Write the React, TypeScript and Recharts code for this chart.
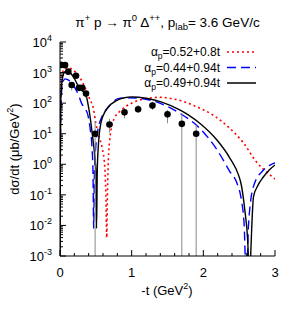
import React from 'react';
import { ComposedChart, Line, Scatter, ErrorBar, XAxis, YAxis } from 'recharts';

const FONT = '"Liberation Sans", Arial, Helvetica, sans-serif';

// measured cross sections (dots)
const expT = [0.015, 0.07, 0.116, 0.163, 0.223, 0.265, 0.31, 0.363, 0.49, 0.69, 0.9, 1.09, 1.29, 1.5, 1.7, 1.9];
const expY = [1780, 1750, 1070, 390, 790, 316, 316, 205, 10, 20, 50, 63, 83, 43, 21, 10];
const expErrLo = [150, 150, 120, 130, 120, 50, 50, 60, 9.999, 9, 18, 15, 23, 21, 20.999, 9.999];
const expErrHi = [150, 150, 150, 80, 120, 50, 50, 60, 16, 11, 19, 24, 29, 17, 26, 9];

// alpha = 0.52+0.8t (red dotted)
const redT = [0, 0.004, 0.01, 0.02, 0.05, 0.1, 0.15, 0.23, 0.32, 0.375, 0.41, 0.47, 0.5, 0.545, 0.59, 0.624, 0.64, 0.652, 0.662, 0.675, 0.69, 0.72, 0.76, 0.84, 1.0, 1.2, 1.4, 1.6, 1.86, 2.14, 2.37, 2.56, 2.74, 2.93, 3.0];
const redV = [0.0002, 1, 150, 500, 1200, 1450, 1350, 950, 450, 235, 145, 60, 22, 8, 3.3, 0.85, 0.1, 0.004, 0.1, 1.5, 5, 17, 32, 55, 100, 140, 155, 135, 85, 40, 15, 5, 1.2, 0.45, 0.33];

// alpha = 0.44+0.94t (blue dashed)
const blueT = [0, 0.004, 0.01, 0.02, 0.04, 0.07, 0.1, 0.16, 0.21, 0.26, 0.3, 0.35, 0.39, 0.42, 0.445, 0.46, 0.47, 0.48, 0.5, 0.53, 0.57, 0.63, 0.7, 0.81, 0.95, 1.1, 1.4, 1.67, 1.95, 2.19, 2.37, 2.47, 2.53, 2.57, 2.6, 2.63, 2.7, 2.84, 2.95, 3.0];
const blueV = [0.0002, 0.5, 40, 200, 480, 620, 600, 460, 310, 180, 100, 65, 40, 15, 4, 0.6, 0.008, 0.5, 4, 14, 30, 55, 87, 140, 150, 145, 98, 47, 15, 3, 0.58, 0.24, 0.07, 0.01, 0.0001, 0.01, 0.19, 0.65, 1.0, 1.1];

// alpha = 0.49+0.94t (black solid)
const blackT = [0, 0.004, 0.01, 0.02, 0.04, 0.07, 0.1, 0.15, 0.2, 0.25, 0.3, 0.36, 0.405, 0.45, 0.485, 0.5, 0.51, 0.52, 0.535, 0.57, 0.6, 0.66, 0.8, 0.9, 1.0, 1.1, 1.2, 1.4, 1.67, 1.8, 1.95, 2.19, 2.37, 2.49, 2.53, 2.58, 2.62, 2.645, 2.665, 2.7, 2.76, 2.84, 2.92, 3.0];
const blackV = [0.0002, 1, 90, 330, 750, 1080, 1130, 950, 640, 380, 270, 190, 60, 10, 1.8, 0.6, 0.008, 0.6, 4, 22, 38, 68, 126, 150, 160, 156, 145, 112, 60, 40, 22, 6.2, 1.6, 0.45, 0.21, 0.03, 0.003, 0.0001, 0.002, 0.087, 0.2, 0.39, 0.65, 0.95];

const xTicks = [0, 0.2, 0.4, 0.6, 0.8, 1, 1.2, 1.4, 1.6, 1.8, 2, 2.2, 2.4, 2.6, 2.8, 3];
const xMajor = [0, 1, 2, 3];
const yDecades = [0.001, 0.01, 0.1, 1, 10, 100, 1000, 10000];
const yExponents = ['-3', '-2', '-1', '0', '1', '2', '3', '4'];

const legendItems = [
  { label: '0.52+0.8t', color: '#ff0000', dash: '2 3' },
  { label: '0.44+0.94t', color: '#0000ff', dash: '9 5' },
  { label: '0.49+0.94t', color: '#000000', dash: undefined },
];

const yTicks: number[] = [];
yDecades.forEach((d, i) => {
  yTicks.push(d);
  if (i < yDecades.length - 1) for (let m = 2; m < 10; m++) yTicks.push(d * m);
});

const toRows = (ts: number[], vs: number[]) => ts.map((t, i) => ({ t, v: vs[i] }));
const redData = toRows(redT, redV);
const blueData = toRows(blueT, blueV);
const blackData = toRows(blackT, blackV);
const expData = expT.map((t, i) => ({ t, v: expY[i], err: [expErrLo[i], expErrHi[i]] }));

const majorX = (v: number) => xMajor.some(m => Math.abs(m - v) < 1e-6);
const decadeIdx = (v: number) => yDecades.findIndex(d => Math.abs(d - v) / d < 1e-6);

const makeTick = (side: 'bottom' | 'top' | 'left' | 'right') => (props: any) => {
  const { x, y, payload } = props;
  const v = payload.value;
  if (side === 'bottom' || side === 'top') {
    const big = majorX(v);
    const len = big ? 6 : 3;
    const dir = side === 'bottom' ? -1 : 1;
    return (
      <g>
        <line x1={x} x2={x} y1={y} y2={y + dir * len} stroke="#000" />
        {side === 'bottom' && big && (
          <text x={x} y={y + 21} textAnchor="middle" fontSize={13} fontFamily={FONT} fill="#000">{v}</text>
        )}
      </g>
    );
  }
  const idx = decadeIdx(v);
  const len = idx >= 0 ? 6 : 3;
  const dir = side === 'left' ? 1 : -1;
  return (
    <g>
      <line x1={x} x2={x + dir * len} y1={y} y2={y} stroke="#000" />
      {side === 'left' && idx >= 0 && (
        <text x={x - 8} y={y + 5} textAnchor="end" fontSize={13} fontFamily={FONT} fill="#000">
          10<tspan dy={-6} fontSize={9}>{yExponents[idx]}</tspan>
        </text>
      )}
    </g>
  );
};

const Dot = (p: any) => <circle cx={p.cx} cy={p.cy} r={3.3} fill="#000" />;

export default function App() {
  return (
    <div style={{ position: 'absolute', left: 0, top: 0, width: 300, height: 315, background: '#fff' }}>
      <ComposedChart width={300} height={315} margin={{ top: 42, right: 25, bottom: 29, left: 10 }}>
        <XAxis dataKey="t" type="number" domain={[0, 3]} ticks={xTicks} interval={0} allowDataOverflow
          height={30} tickSize={0} tickMargin={0} tickLine={false} axisLine={{ stroke: '#000' }} tick={makeTick('bottom')} />
        <XAxis xAxisId="top" orientation="top" dataKey="t" type="number" domain={[0, 3]} ticks={xTicks} interval={0}
          allowDataOverflow height={0} tickSize={0} tickMargin={0} tickLine={false} axisLine={{ stroke: '#000' }} tick={makeTick('top')} />
        <YAxis dataKey="v" type="number" scale="log" domain={[0.001, 10000]} ticks={yTicks} interval={0} allowDataOverflow
          width={50} tickSize={0} tickMargin={0} tickLine={false} axisLine={{ stroke: '#000' }} tick={makeTick('left')} />
        <YAxis yAxisId="right" orientation="right" dataKey="v" type="number" scale="log" domain={[0.001, 10000]} ticks={yTicks}
          interval={0} allowDataOverflow width={0} tickSize={0} tickMargin={0} tickLine={false} axisLine={{ stroke: '#000' }}
          tick={makeTick('right')} />
        <Line data={redData} dataKey="v" type="monotone" stroke="#ff0000" strokeWidth={1.6} strokeDasharray="2 3"
          dot={false} isAnimationActive={false} />
        <Line data={blueData} dataKey="v" type="monotone" stroke="#0000ff" strokeWidth={1.4} strokeDasharray="9 5"
          dot={false} isAnimationActive={false} />
        <Line data={blackData} dataKey="v" type="monotone" stroke="#000" strokeWidth={1.4}
          dot={false} isAnimationActive={false} />
        <Scatter data={expData} dataKey="v" shape={Dot} isAnimationActive={false}>
          <ErrorBar dataKey="err" direction="y" width={0} stroke="#888" strokeWidth={1} />
        </Scatter>
      </ComposedChart>
      <svg width={300} height={315} style={{ position: 'absolute', left: 0, top: 0, pointerEvents: 'none' }} fontFamily={FONT}>
        <text x={167.5} y={27} textAnchor="middle" fontSize={13.5} fill="#000">
          π<tspan dy={-6} fontSize={9.5}>+</tspan><tspan dy={6}> p → π</tspan><tspan dy={-6} fontSize={9.5}>0</tspan>
          <tspan dy={6}> Δ</tspan><tspan dy={-6} fontSize={9.5}>++</tspan><tspan dy={6}>, p</tspan>
          <tspan dy={3} fontSize={9.5}>lab</tspan><tspan dy={-3}>= 3.6 GeV/c</tspan>
        </text>
        <text x={167} y={295} textAnchor="middle" fontSize={13} fill="#000">
          -t (GeV<tspan dy={-6} fontSize={9}>2</tspan><tspan dy={6}>)</tspan>
        </text>
        <text transform="translate(19,149) rotate(-90)" textAnchor="middle" fontSize={13} fill="#000">
          dσ/dt (μb/GeV<tspan dy={-6} fontSize={9}>2</tspan><tspan dy={6}>)</tspan>
        </text>
        {legendItems.map((it, i) => {
          const cy = 52 + i * 15.5;
          return (
            <g key={it.label}>
              <text x={220} y={cy + 4} textAnchor="end" fontSize={12} fill="#000">
                α<tspan dy={3} fontSize={8.5}>p</tspan><tspan dy={-3}>={it.label}</tspan>
              </text>
              <line x1={227} x2={256} y1={cy} y2={cy} stroke={it.color} strokeWidth={1.5} strokeDasharray={it.dash} />
            </g>
          );
        })}
      </svg>
    </div>
  );
}
